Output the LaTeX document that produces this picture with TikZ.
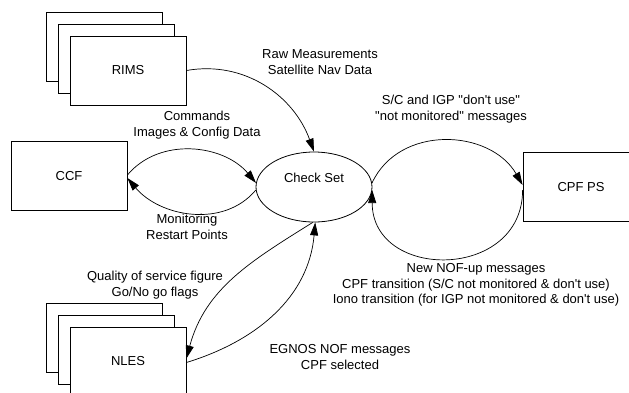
\documentclass[tikz,border=0pt]{standalone}
\usepackage{fontspec}
\setmainfont{Liberation Sans}[Ligatures=TeXOff]
\usetikzlibrary{positioning,calc,shapes.geometric,arrows.meta}

\begin{document}
\begin{tikzpicture}[
	x=1pt, y=1pt,
	font=\fontsize{13}{15.7}\selectfont,
	% Style for the system boxes
	unitbox/.style={draw, fill=white, line width=0.8pt, minimum width=116pt, minimum height=69pt, inner sep=0pt},
	% Style for the central ellipse
	checknode/.style={draw, ellipse, line width=0.8pt, minimum width=116pt, minimum height=70pt, inner sep=0pt},
	% Style for the message arrows (black, filled head)
	msg_arrow/.style={
		-{Triangle[length=13pt,width=8pt]},
		black, line width=0.7pt
	},
	msglabel/.style={align=center, inner sep=0pt}
	]
	\clip (0,0) rectangle (629,-392);
	
	% --- RIMS (stack of 3) ---
	\node[unitbox] (rims3) at (104.5,-47) {};
	\node[unitbox] (rims2) at (116.5,-59) {};
	\node[unitbox] (rims) at (128,-70.5) {RIMS};
	
	% --- CCF ---
	\node[unitbox] (ccf) at (69,-176) {CCF};
	
	% --- CHECK SET ---
	\node[checknode] (chk) at (314,-187) {};
	\node (chktxt) at ([yshift=9pt]chk.center) {Check Set};
	
	% --- CPF PS ---
	\node[unitbox] (cpf) at (581,-187) {CPF PS};
	
	% --- NLES (stack of 3) ---
	\node[unitbox] (nles3) at (104.5,-338) {};
	\node[unitbox] (nles2) at (116.5,-350) {};
	\node[unitbox] (nles) at (128,-361.5) {NLES};
	
	% --- MESSAGE ARROWS ---
	% RIMS -> Check Set
	\draw[msg_arrow] (rims.east) to[out=10, in=110] (chk.north);
	
	% CCF <-> Check Set
	\draw[msg_arrow] ([yshift=1pt]ccf.east) to[out=50, in=130] (chk.176);
	\draw[msg_arrow] (chk.183) to[out=-130, in=-50] ([yshift=-2pt]ccf.east);
	
	% Check Set <-> CPF PS
	\draw[msg_arrow] (chk.4) to[out=65, in=120, looseness=1.1] ([yshift=2pt]cpf.west);
	\draw[msg_arrow] ([yshift=-3pt]cpf.west) to[out=-90, in=-90, looseness=1.55] (chk.-3);
	
	% Check Set <-> NLES
	\draw[msg_arrow] (chk.268) to[out=212, in=75] ([yshift=3pt]nles.east);
	\draw[msg_arrow] ([yshift=-1pt]nles.east) to[out=17, in=-95] (chk.272);
	
	% --- LABELS ---
	\node[msglabel] (lrims) at (320,-62) {Raw Measurements\\Satellite Nav Data};
	\node[msglabel] (lcmd) at (197,-125) {Commands\\Images \& Config Data};
	\node[msglabel] (lmon) at (187,-226.5) {Monitoring\\Restart Points};
	\node[msglabel] (lsc) at (451,-109) {S/C and IGP "don't use"\\"not monitored" messages};
	\node[msglabel] (lnof) at (476,-285) {New NOF-up messages\\CPF transition (S/C not monitored \& don't use)\\Iono transition (for IGP not monitored \& don't use)};
	\node[msglabel] (lqos) at (155,-285) {Quality of service figure\\Go/No go flags};
	\node[msglabel] (legn) at (340,-357) {EGNOS NOF messages\\CPF selected};
	
\end{tikzpicture}
\end{document}
